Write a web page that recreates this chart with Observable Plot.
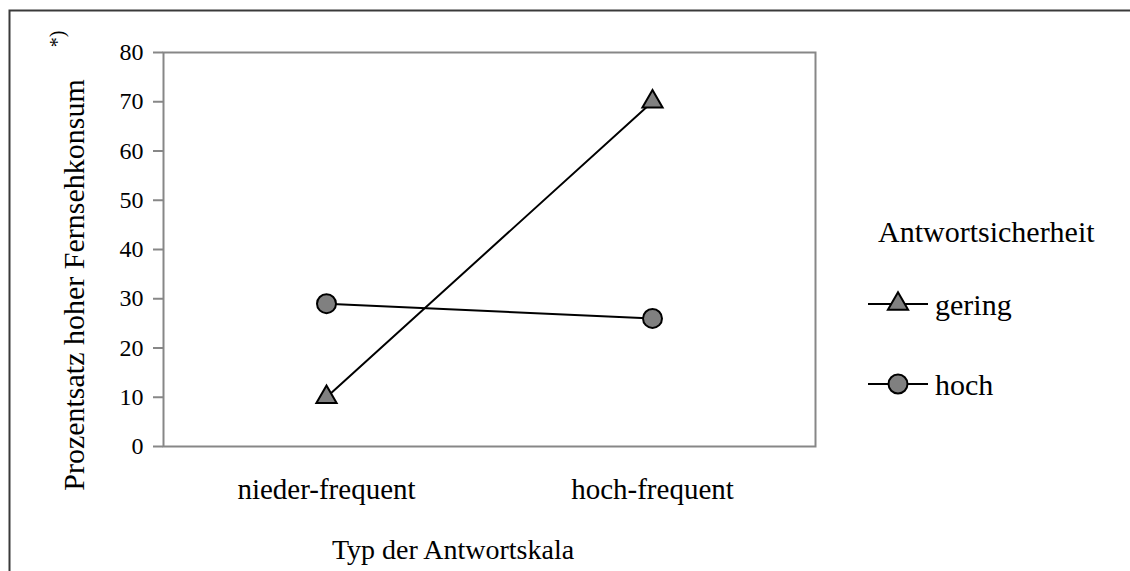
<!DOCTYPE html>
<html>
<head>
<meta charset="utf-8">
<script src="https://cdn.jsdelivr.net/npm/d3@7"></script>
<script src="https://cdn.jsdelivr.net/npm/@observablehq/plot@0.6"></script>
<style>
  html, body { margin: 0; padding: 0; background: white; }
  svg { display: block; }
</style>
</head>
<body>
<div id="chart"></div>
<script>
const categories = ["nieder-frequent", "hoch-frequent"];
const seriesNames = ["gering", "hoch"];
const geringValues = [10, 70];
const hochValues = [29, 26];
const yTicks = [0, 10, 20, 30, 40, 50, 60, 70, 80];
const xTitle = "Typ der Antwortskala";
const yTitle = "Prozentsatz hoher Fernsehkonsum";
const yTitleNote = "*)";
const legendTitle = "Antwortsicherheit";

const FONT = "'Liberation Serif', 'Times New Roman', serif";

const data = [
  ...categories.map((c, i) => ({cat: c, s: "gering", v: geringValues[i]})),
  ...categories.map((c, i) => ({cat: c, s: "hoch", v: hochValues[i]}))
];

const chart = Plot.plot({
  width: 1130,
  height: 571,
  marginLeft: 163,
  marginRight: 315,
  marginTop: 52,
  marginBottom: 125,
  style: {fontFamily: FONT, background: "white", color: "black"},
  x: {type: "point", domain: categories, padding: 0.5, label: null},
  y: {domain: [0, 80], label: null},
  marks: [
    Plot.frame({stroke: "#878787", strokeWidth: 2}),
    Plot.axisY({ticks: yTicks, tickSize: 10, tickPadding: 10, fontSize: 24, stroke: "#878787", strokeWidth: 2, label: null}),
    Plot.axisX({tickSize: 0, tickPadding: 32, fontSize: 29, label: null}),
    Plot.line(data, {x: "cat", y: "v", z: "s", stroke: "black", strokeWidth: 2}),
    Plot.dot(data.filter(d => d.s === "gering"), {x: "cat", y: "v", symbol: "triangle", r: 7.5, fill: "#808080", stroke: "black", strokeWidth: 2}),
    Plot.dot(data.filter(d => d.s === "hoch"), {x: "cat", y: "v", symbol: "circle", r: 9.5, fill: "#808080", stroke: "black", strokeWidth: 2})
  ]
});

document.getElementById("chart").appendChild(chart);

const svg = d3.select(chart);

// outer border
svg.append("rect")
  .attr("x", 9.5).attr("y", 10.5).attr("width", 1300).attr("height", 800)
  .attr("fill", "none").attr("stroke", "#3a3a3a").attr("stroke-width", 2);

// x axis title
svg.append("text")
  .attr("x", 453).attr("y", 549)
  .attr("text-anchor", "middle").attr("dominant-baseline", "central")
  .attr("font-family", FONT).attr("font-size", 28).attr("fill", "black")
  .text(xTitle);

// y axis title
svg.append("text")
  .attr("transform", "translate(73,285) rotate(-90)")
  .attr("text-anchor", "middle").attr("dominant-baseline", "central")
  .attr("font-family", FONT).attr("font-size", 30).attr("fill", "black")
  .text(yTitle);
svg.append("text")
  .attr("transform", "translate(57,39) rotate(-90)")
  .attr("text-anchor", "middle").attr("dominant-baseline", "central")
  .attr("font-family", FONT).attr("font-size", 20).attr("fill", "black")
  .text(yTitleNote);

// legend
const lg = svg.append("g").attr("text-anchor", "start");
lg.append("text")
  .attr("x", 878).attr("y", 231)
  .attr("text-anchor", "start").attr("dominant-baseline", "central")
  .attr("font-family", FONT).attr("font-size", 30).attr("fill", "black")
  .text(legendTitle);
const legendRows = [
  {name: seriesNames[0], y: 304, sym: d3.symbolTriangle, size: Math.PI * 7.5 * 7.5},
  {name: seriesNames[1], y: 384, sym: d3.symbolCircle, size: Math.PI * 9.5 * 9.5}
];
legendRows.forEach(r => {
  lg.append("line").attr("x1", 868).attr("x2", 928).attr("y1", r.y).attr("y2", r.y)
    .attr("stroke", "black").attr("stroke-width", 2);
  lg.append("path").attr("transform", `translate(898,${r.y})`)
    .attr("d", d3.symbol(r.sym, r.size)())
    .attr("fill", "#808080").attr("stroke", "black").attr("stroke-width", 2);
  lg.append("text").attr("x", 935).attr("y", r.y)
    .attr("text-anchor", "start").attr("dominant-baseline", "central")
    .attr("font-family", FONT).attr("font-size", 30).attr("fill", "black")
    .text(r.name);
});
</script>
</body>
</html>
